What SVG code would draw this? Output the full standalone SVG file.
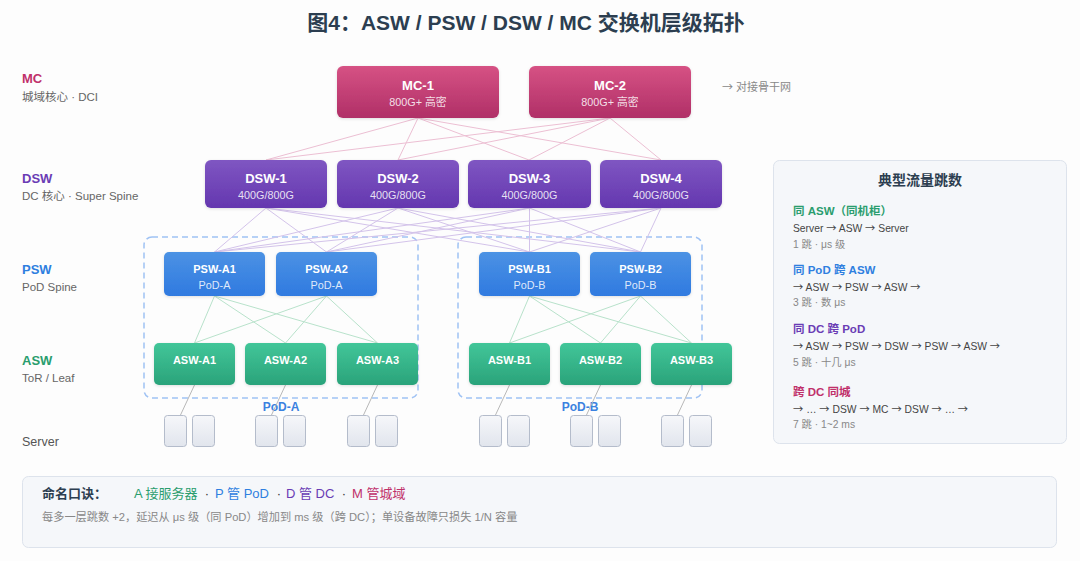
<svg xmlns="http://www.w3.org/2000/svg" width="1080" height="561" viewBox="0 0 1080 561">
<defs>
<linearGradient id="gMC" x1="0" y1="0" x2="0" y2="1"><stop offset="0" stop-color="#d65284"/><stop offset="1" stop-color="#b02f67"/></linearGradient>
<linearGradient id="gDSW" x1="0" y1="0" x2="0" y2="1"><stop offset="0" stop-color="#7f56c2"/><stop offset="1" stop-color="#6437af"/></linearGradient>
<linearGradient id="gPSW" x1="0" y1="0" x2="0" y2="1"><stop offset="0" stop-color="#4c92e4"/><stop offset="1" stop-color="#2f7ae0"/></linearGradient>
<linearGradient id="gASW" x1="0" y1="0" x2="0" y2="1"><stop offset="0" stop-color="#42c699"/><stop offset="1" stop-color="#2aa37a"/></linearGradient>
<linearGradient id="gSrv" x1="0" y1="0" x2="0" y2="1"><stop offset="0" stop-color="#f6f7fa"/><stop offset="1" stop-color="#e1e5ed"/></linearGradient>
<filter id="sh" x="-10%" y="-10%" width="120%" height="130%"><feDropShadow dx="0" dy="1" stdDeviation="1.5" flood-color="#000" flood-opacity="0.12"/></filter>
</defs>
<style>
text{font-family:"Liberation Sans","Noto Sans CJK SC",sans-serif;}
.ar{font-family:"Noto Sans CJK SC",sans-serif;}
.t{font-size:21px;font-weight:bold;fill:#2c3e50;}
.lvl{font-size:13px;font-weight:bold;}
.lsub{font-size:11.5px;fill:#666;}
.nt{font-size:13px;font-weight:bold;fill:#fff;text-anchor:middle;}
.ns{font-size:10.8px;fill:#fff;fill-opacity:0.85;text-anchor:middle;}
.an{font-size:11px;font-weight:bold;fill:#fff;text-anchor:middle;}
.mc{fill:url(#gMC);filter:url(#sh);}
.dsw{fill:url(#gDSW);filter:url(#sh);}
.psw{fill:url(#gPSW);filter:url(#sh);}
.asw{fill:url(#gASW);filter:url(#sh);}
.srv{fill:url(#gSrv);stroke:#b4bccb;stroke-width:1;}
.lmc{stroke:#ecbfd3;stroke-width:1;fill:none;}
.ldsw{stroke:#d3c3ea;stroke-width:1;fill:none;}
.lpsw{stroke:#b8e2cb;stroke-width:1;fill:none;}
.lsrv{stroke:#b8b8b8;stroke-width:1;fill:none;}
.pod{fill:none;stroke:#9fc2f4;stroke-width:1.5;stroke-dasharray:6 4;}
.podl{font-size:12px;font-weight:bold;fill:#3b82e0;text-anchor:middle;}
.ph{font-size:11.5px;font-weight:bold;}
.pp{font-size:10.3px;fill:#444;}
.pg{font-size:10.3px;fill:#888;}
.mn{font-size:13px;}
</style>
<rect width="1080" height="561" fill="#fdfdfd"/>
<text class="t" x="526" y="30" text-anchor="middle">图4：ASW / PSW / DSW / MC 交换机层级拓扑</text>

<g id="level-labels">
<text class="lvl" x="22" y="83" fill="#c0306a">MC</text>
<text class="lsub" x="22" y="101">城域核心 · DCI</text>
<text class="lvl" x="22" y="183" fill="#6a3cb5">DSW</text>
<text class="lsub" x="22" y="200">DC 核心 · Super Spine</text>
<text class="lvl" x="22" y="274" fill="#2f7fe0">PSW</text>
<text class="lsub" x="22" y="291">PoD Spine</text>
<text class="lvl" x="22" y="365" fill="#2a9d6e">ASW</text>
<text class="lsub" x="22" y="382">ToR / Leaf</text>
<text x="22" y="446" font-size="12.5" fill="#555">Server</text>
</g>

<g id="pods">
<rect class="pod" x="144" y="237" width="274" height="161" rx="8"/>
<text class="podl" x="281" y="411">PoD-A</text>
<rect class="pod" x="458" y="237" width="244" height="161" rx="8"/>
<text class="podl" x="580" y="411">PoD-B</text>
</g>

<g id="connectors">
<line class="lmc" x1="418" y1="118" x2="266" y2="160"/>
<line class="lmc" x1="418" y1="118" x2="398" y2="160"/>
<line class="lmc" x1="418" y1="118" x2="529" y2="160"/>
<line class="lmc" x1="418" y1="118" x2="661" y2="160"/>
<line class="lmc" x1="610" y1="118" x2="266" y2="160"/>
<line class="lmc" x1="610" y1="118" x2="398" y2="160"/>
<line class="lmc" x1="610" y1="118" x2="529" y2="160"/>
<line class="lmc" x1="610" y1="118" x2="661" y2="160"/>
<line class="ldsw" x1="266" y1="208" x2="214.5" y2="252"/>
<line class="ldsw" x1="266" y1="208" x2="326.5" y2="252"/>
<line class="ldsw" x1="266" y1="208" x2="529.5" y2="252"/>
<line class="ldsw" x1="266" y1="208" x2="640.5" y2="252"/>
<line class="ldsw" x1="398" y1="208" x2="214.5" y2="252"/>
<line class="ldsw" x1="398" y1="208" x2="326.5" y2="252"/>
<line class="ldsw" x1="398" y1="208" x2="529.5" y2="252"/>
<line class="ldsw" x1="398" y1="208" x2="640.5" y2="252"/>
<line class="ldsw" x1="529.5" y1="208" x2="214.5" y2="252"/>
<line class="ldsw" x1="529.5" y1="208" x2="326.5" y2="252"/>
<line class="ldsw" x1="529.5" y1="208" x2="529.5" y2="252"/>
<line class="ldsw" x1="529.5" y1="208" x2="640.5" y2="252"/>
<line class="ldsw" x1="661" y1="208" x2="214.5" y2="252"/>
<line class="ldsw" x1="661" y1="208" x2="326.5" y2="252"/>
<line class="ldsw" x1="661" y1="208" x2="529.5" y2="252"/>
<line class="ldsw" x1="661" y1="208" x2="640.5" y2="252"/>
<line class="lpsw" x1="214.5" y1="296" x2="194.5" y2="343"/>
<line class="lpsw" x1="214.5" y1="296" x2="285.5" y2="343"/>
<line class="lpsw" x1="214.5" y1="296" x2="377.5" y2="343"/>
<line class="lpsw" x1="326.5" y1="296" x2="194.5" y2="343"/>
<line class="lpsw" x1="326.5" y1="296" x2="285.5" y2="343"/>
<line class="lpsw" x1="326.5" y1="296" x2="377.5" y2="343"/>
<line class="lpsw" x1="529.5" y1="296" x2="509.5" y2="343"/>
<line class="lpsw" x1="529.5" y1="296" x2="600.5" y2="343"/>
<line class="lpsw" x1="529.5" y1="296" x2="691.5" y2="343"/>
<line class="lpsw" x1="640.5" y1="296" x2="509.5" y2="343"/>
<line class="lpsw" x1="640.5" y1="296" x2="600.5" y2="343"/>
<line class="lpsw" x1="640.5" y1="296" x2="691.5" y2="343"/>
<line class="lsrv" x1="194.5" y1="385" x2="180.5" y2="415"/>
<line class="lsrv" x1="285.5" y1="385" x2="271.5" y2="415"/>
<line class="lsrv" x1="377.5" y1="385" x2="363.5" y2="415"/>
<line class="lsrv" x1="509.5" y1="385" x2="495.5" y2="415"/>
<line class="lsrv" x1="600.5" y1="385" x2="586.5" y2="415"/>
<line class="lsrv" x1="691.5" y1="385" x2="677.5" y2="415"/>
</g>

<g id="MC-1"><rect class="mc" x="337" y="66" width="162" height="52" rx="6"/><text class="nt" x="418" y="90">MC-1</text><text class="ns" x="418" y="106">800G+ 高密</text></g>
<g id="MC-2"><rect class="mc" x="529" y="66" width="162" height="52" rx="6"/><text class="nt" x="610" y="90">MC-2</text><text class="ns" x="610" y="106">800G+ 高密</text></g>
<text x="722" y="91" font-size="11" fill="#888"><tspan class="ar">→</tspan> 对接骨干网</text>

<g id="DSW-1"><rect class="dsw" x="205" y="160" width="122" height="48" rx="6"/><text class="nt" x="266" y="183">DSW-1</text><text class="ns" x="266" y="199">400G/800G</text></g>
<g id="DSW-2"><rect class="dsw" x="337" y="160" width="122" height="48" rx="6"/><text class="nt" x="398" y="183">DSW-2</text><text class="ns" x="398" y="199">400G/800G</text></g>
<g id="DSW-3"><rect class="dsw" x="468" y="160" width="123" height="48" rx="6"/><text class="nt" x="529.5" y="183">DSW-3</text><text class="ns" x="529.5" y="199">400G/800G</text></g>
<g id="DSW-4"><rect class="dsw" x="600" y="160" width="122" height="48" rx="6"/><text class="nt" x="661" y="183">DSW-4</text><text class="ns" x="661" y="199">400G/800G</text></g>

<g id="PSW-A1"><rect class="psw" x="164" y="252" width="101" height="44" rx="5"/><text class="an" x="214.5" y="273">PSW-A1</text><text class="ns" x="214.5" y="289" font-size="9.5">PoD-A</text></g>
<g id="PSW-A2"><rect class="psw" x="276" y="252" width="101" height="44" rx="5"/><text class="an" x="326.5" y="273">PSW-A2</text><text class="ns" x="326.5" y="289" font-size="9.5">PoD-A</text></g>
<g id="PSW-B1"><rect class="psw" x="479" y="252" width="101" height="44" rx="5"/><text class="an" x="529.5" y="273">PSW-B1</text><text class="ns" x="529.5" y="289" font-size="9.5">PoD-B</text></g>
<g id="PSW-B2"><rect class="psw" x="590" y="252" width="101" height="44" rx="5"/><text class="an" x="640.5" y="273">PSW-B2</text><text class="ns" x="640.5" y="289" font-size="9.5">PoD-B</text></g>

<g id="ASW-A1"><rect class="asw" x="154" y="343" width="81" height="42" rx="5"/><text class="an" x="194.5" y="364" font-size="10.5">ASW-A1</text></g>
<g id="ASW-A2"><rect class="asw" x="245" y="343" width="81" height="42" rx="5"/><text class="an" x="285.5" y="364" font-size="10.5">ASW-A2</text></g>
<g id="ASW-A3"><rect class="asw" x="337" y="343" width="81" height="42" rx="5"/><text class="an" x="377.5" y="364" font-size="10.5">ASW-A3</text></g>
<g id="ASW-B1"><rect class="asw" x="469" y="343" width="81" height="42" rx="5"/><text class="an" x="509.5" y="364" font-size="10.5">ASW-B1</text></g>
<g id="ASW-B2"><rect class="asw" x="560" y="343" width="81" height="42" rx="5"/><text class="an" x="600.5" y="364" font-size="10.5">ASW-B2</text></g>
<g id="ASW-B3"><rect class="asw" x="651" y="343" width="81" height="42" rx="5"/><text class="an" x="691.5" y="364" font-size="10.5">ASW-B3</text></g>

<g id="servers">
<rect class="srv" x="164.5" y="415.5" width="22" height="31" rx="3"/><rect class="srv" x="192.5" y="415.5" width="22" height="31" rx="3"/>
<rect class="srv" x="255.5" y="415.5" width="22" height="31" rx="3"/><rect class="srv" x="283.5" y="415.5" width="22" height="31" rx="3"/>
<rect class="srv" x="347.5" y="415.5" width="22" height="31" rx="3"/><rect class="srv" x="375.5" y="415.5" width="22" height="31" rx="3"/>
<rect class="srv" x="479.5" y="415.5" width="22" height="31" rx="3"/><rect class="srv" x="507.5" y="415.5" width="22" height="31" rx="3"/>
<rect class="srv" x="570.5" y="415.5" width="22" height="31" rx="3"/><rect class="srv" x="598.5" y="415.5" width="22" height="31" rx="3"/>
<rect class="srv" x="661.5" y="415.5" width="22" height="31" rx="3"/><rect class="srv" x="689.5" y="415.5" width="22" height="31" rx="3"/>
</g>

<g id="hop-panel">
<rect x="773.5" y="160.5" width="293" height="283" rx="6" fill="#f5f7fa" stroke="#dde3ec"/>
<text x="920" y="185" font-size="14" font-weight="bold" fill="#2c3e50" text-anchor="middle">典型流量跳数</text>
<text class="ph" x="793" y="215" fill="#2a9d6e">同 ASW（同机柜）</text>
<text class="pp" x="793" y="232">Server <tspan class="ar">→</tspan> ASW <tspan class="ar">→</tspan> Server</text>
<text class="pg" x="793" y="248">1 跳 · μs 级</text>
<text class="ph" x="793" y="274" fill="#2f7fe0">同 PoD 跨 ASW</text>
<text class="pp" x="793" y="291"><tspan class="ar">→</tspan> ASW <tspan class="ar">→</tspan> PSW <tspan class="ar">→</tspan> ASW <tspan class="ar">→</tspan></text>
<text class="pg" x="793" y="306">3 跳 · 数 μs</text>
<text class="ph" x="793" y="333" fill="#6a3cb5">同 DC 跨 PoD</text>
<text class="pp" x="793" y="350"><tspan class="ar">→</tspan> ASW <tspan class="ar">→</tspan> PSW <tspan class="ar">→</tspan> DSW <tspan class="ar">→</tspan> PSW <tspan class="ar">→</tspan> ASW <tspan class="ar">→</tspan></text>
<text class="pg" x="793" y="366">5 跳 · 十几 μs</text>
<text class="ph" x="793" y="396" fill="#c0306a">跨 DC 同城</text>
<text class="pp" x="793" y="413"><tspan class="ar">→</tspan> … <tspan class="ar">→</tspan> DSW <tspan class="ar">→</tspan> MC <tspan class="ar">→</tspan> DSW <tspan class="ar">→</tspan> … <tspan class="ar">→</tspan></text>
<text class="pg" x="793" y="428">7 跳 · 1~2 ms</text>
</g>

<g id="mnemonic">
<rect x="22.5" y="476.5" width="1034" height="71" rx="6" fill="#f5f7fa" stroke="#dde3ec"/>
<text x="42" y="498" font-size="13" font-weight="bold" fill="#2c3e50">命名口诀：</text>
<text class="mn" x="134" y="498" fill="#2a9d6e">A 接服务器</text>
<text class="mn" x="207" y="498" fill="#333" text-anchor="middle">·</text>
<text class="mn" x="215" y="498" fill="#2f7fe0">P 管 PoD</text>
<text class="mn" x="279" y="498" fill="#333" text-anchor="middle">·</text>
<text class="mn" x="286" y="498" fill="#6a3cb5">D 管 DC</text>
<text class="mn" x="344" y="498" fill="#333" text-anchor="middle">·</text>
<text class="mn" x="352" y="498" fill="#c0306a">M 管城域</text>
<text x="42" y="521" font-size="11.2" fill="#888">每多一层跳数 +2，延迟从 μs 级（同 PoD）增加到 ms 级（跨 DC）；单设备故障只损失 1/N 容量</text>
</g>
</svg>
